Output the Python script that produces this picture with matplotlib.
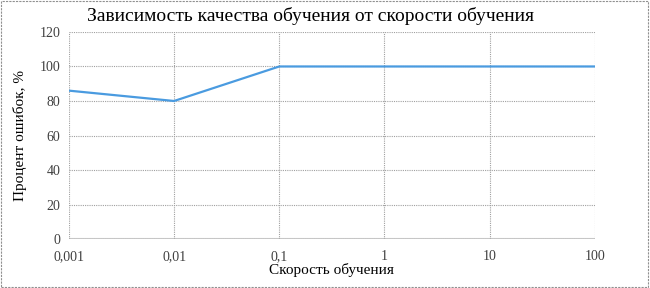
import matplotlib
matplotlib.use("Agg")
import matplotlib.pyplot as plt
from matplotlib.patches import Rectangle

# данные
lr = [0.001, 0.01, 0.1, 1, 10, 100]
err = [86, 80, 100, 100, 100, 100]
xticks = [0.001, 0.01, 0.1, 1, 10, 100]
xlabels = ["0,001", "0,01", "0,1", "1", "10", "100"]
yticks = [0, 20, 40, 60, 80, 100, 120]

plt.rcParams['font.family'] = ['Liberation Serif', 'DejaVu Serif']

fig = plt.figure(figsize=(6.5, 2.88), dpi=100)
ax = fig.add_axes([0.106, 0.170, 0.809, 0.719])

ax.plot(lr, err, color="#4a9be0", linewidth=1.6)
ax.set_xscale("log")
ax.set_xlim(0.001, 100)
ax.set_ylim(0, 120)
ax.set_xticks(xticks)
ax.set_xticklabels(xlabels)
ax.minorticks_off()
ax.set_yticks(yticks)

ax.grid(True, color="#a0a0a0", linestyle=(0, (1, 1)), linewidth=0.8)
for s in ax.spines.values():
    s.set_visible(False)
ax.axhline(0, color="#c8c8c8", linewidth=1.5, zorder=1)
ax.tick_params(axis="both", length=0, labelsize=10, colors="#404040", pad=6)
ax.tick_params(axis="x", pad=8)

ax.set_title("Зависимость качества обучения от скорости обучения", fontsize=14, pad=8, x=0.46)
ax.set_xlabel("Скорость обучения", fontsize=11, labelpad=0)
ax.set_ylabel("Процент ошибок, %", fontsize=11, labelpad=9)

fig.patches.append(Rectangle((0.002, 0.004), 0.995, 0.992, transform=fig.transFigure,
                             fill=False, edgecolor="#909090", linestyle=(0, (2, 1)), linewidth=0.8))

fig.savefig("out.png", dpi=100)
